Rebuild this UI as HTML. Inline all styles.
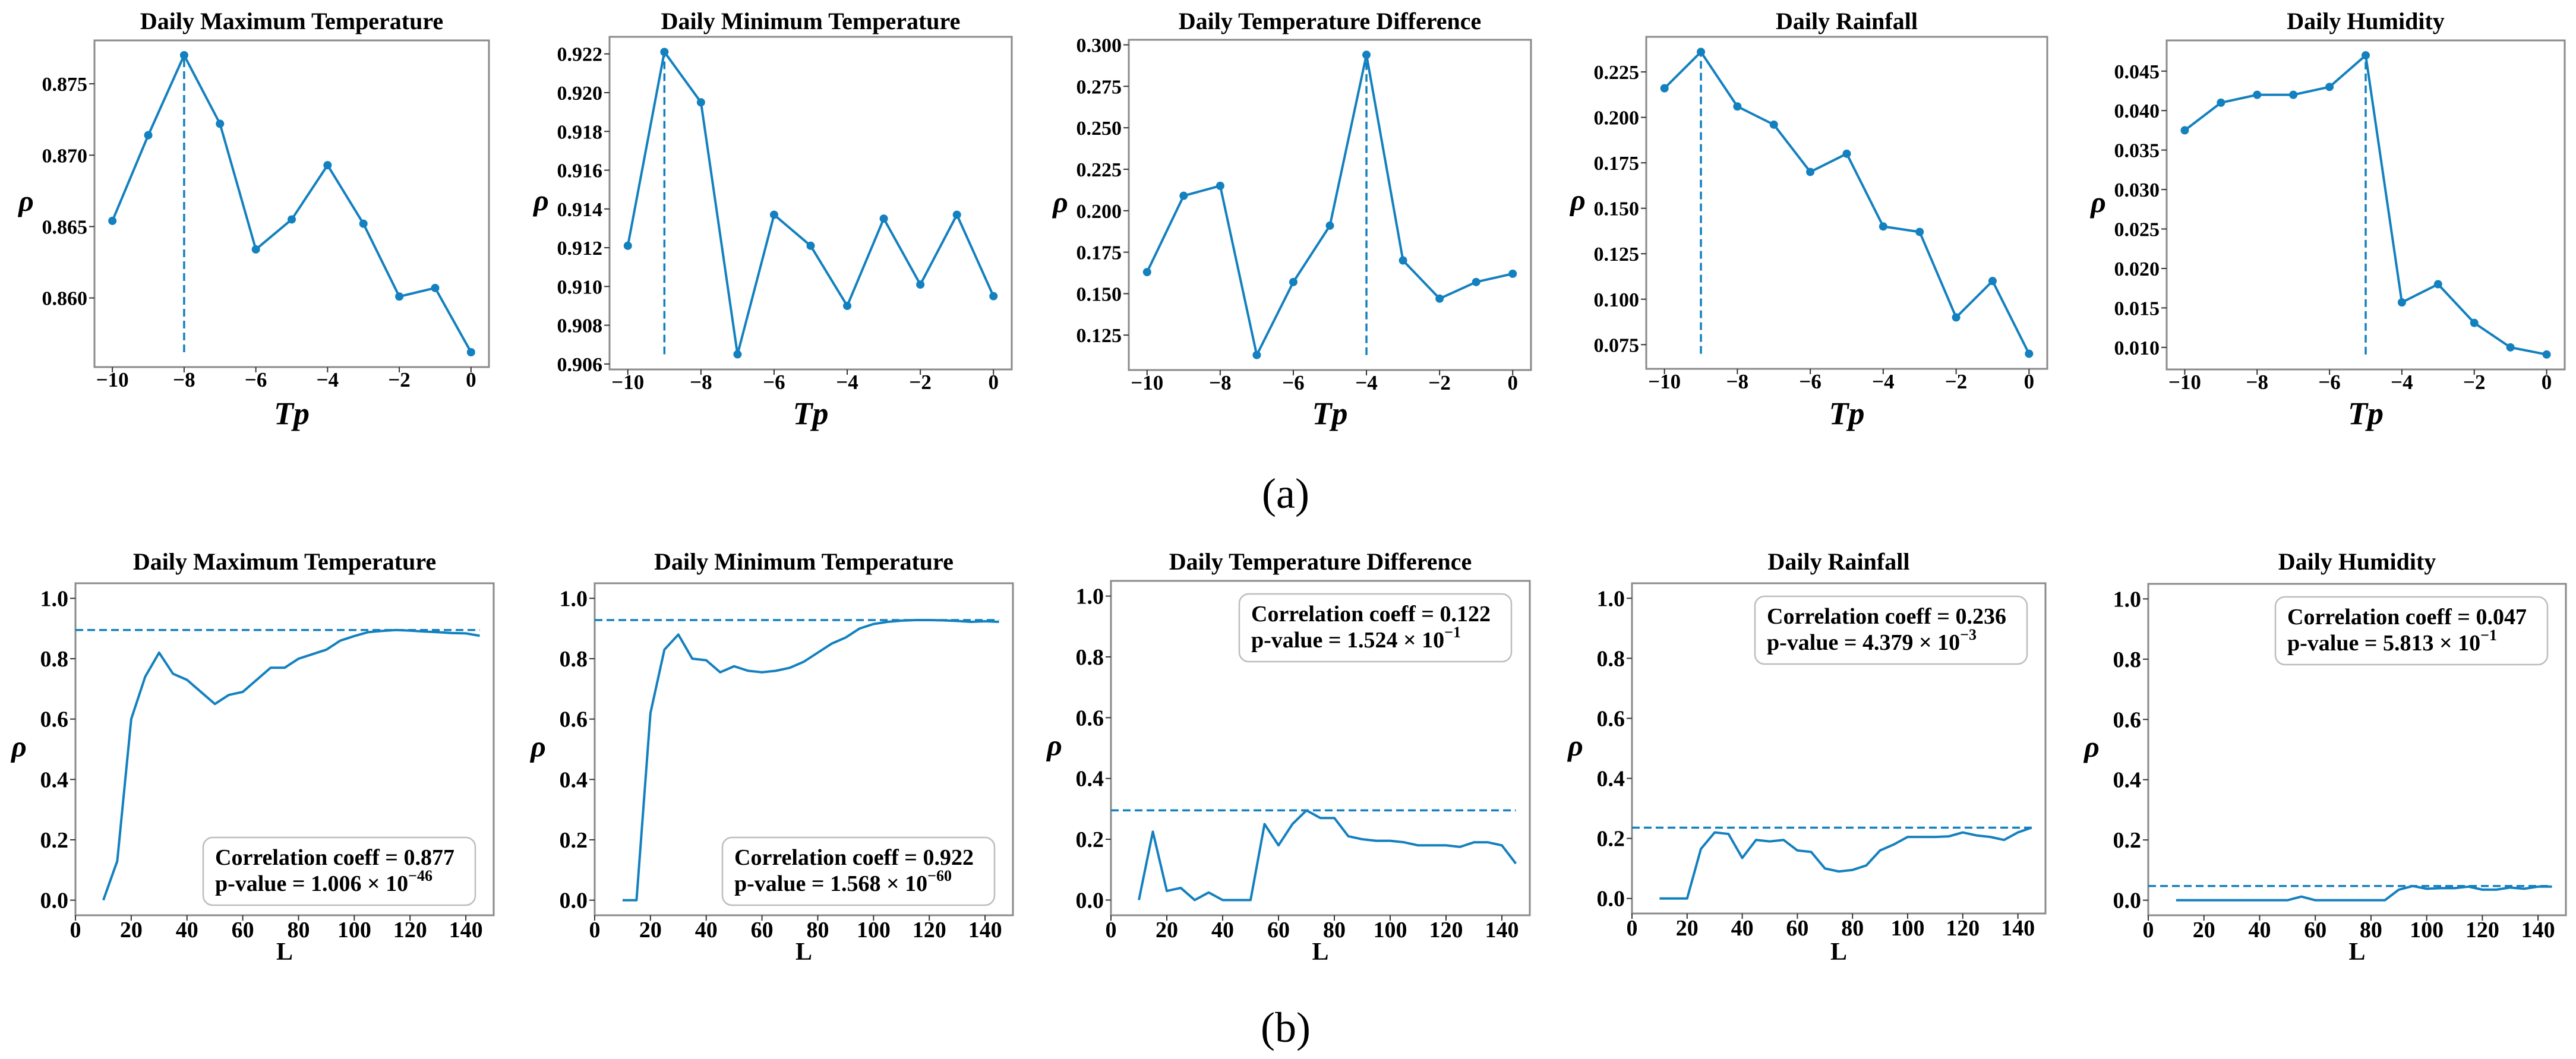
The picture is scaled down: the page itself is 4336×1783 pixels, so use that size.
<!DOCTYPE html>
<html><head><meta charset="utf-8">
<style>
html,body{margin:0;padding:0;background:#fff;}
svg{display:block;}
svg text{font-family:"Liberation Serif",serif;}
</style></head>
<body>
<svg id="fig" width="4336" height="1783" viewBox="0 0 4336 1783" xmlns="http://www.w3.org/2000/svg" font-family="Liberation Serif, serif">
<text x="2164" y="855" font-size="72" text-anchor="middle">(a)</text>
<text x="2164" y="1754" font-size="72" text-anchor="middle">(b)</text>
</svg>
<script>
// ---- data: top row (Tp lag) ----
const tpCategories = [-10,-9,-8,-7,-6,-5,-4,-3,-2,-1,0];
const titles = ["Daily Maximum Temperature","Daily Minimum Temperature","Daily Temperature Difference","Daily Rainfall","Daily Humidity"];
const tpMaxTemp = [0.8654,0.8714,0.8770,0.8722,0.8634,0.8655,0.8693,0.8652,0.8601,0.8607,0.8562];
const tpMinTemp = [0.9121,0.9221,0.9195,0.9065,0.9137,0.9121,0.9090,0.9135,0.9101,0.9137,0.9095];
const tpTempDiff = [0.163,0.209,0.215,0.113,0.157,0.191,0.294,0.170,0.147,0.157,0.162];
const tpRainfall = [0.216,0.236,0.206,0.196,0.170,0.180,0.140,0.137,0.090,0.110,0.070];
const tpHumidity = [0.0375,0.041,0.042,0.042,0.043,0.047,0.0157,0.018,0.0131,0.010,0.0091];
const tpXTicks = [-10,-8,-6,-4,-2,0];
const tpYTicks1 = ["0.860","0.865","0.870","0.875"];
const tpYTicks2 = ["0.906","0.908","0.910","0.912","0.914","0.916","0.918","0.920","0.922"];
const tpYTicks3 = ["0.125","0.150","0.175","0.200","0.225","0.250","0.275","0.300"];
const tpYTicks4 = ["0.075","0.100","0.125","0.150","0.175","0.200","0.225"];
const tpYTicks5 = ["0.010","0.015","0.020","0.025","0.030","0.035","0.040","0.045"];
// ---- data: bottom row (L window) ----
const lCategories = [10,15,20,25,30,35,40,45,50,55,60,65,70,75,80,85,90,95,100,105,110,115,120,125,130,135,140,145];
const lMaxTemp = [0,0.13,0.60,0.74,0.82,0.75,0.73,0.69,0.65,0.68,0.69,0.73,0.77,0.77,0.80,0.815,0.83,0.86,0.875,0.888,0.892,0.895,0.893,0.89,0.888,0.885,0.884,0.876];
const lMinTemp = [0,0,0.62,0.83,0.88,0.80,0.795,0.755,0.775,0.76,0.755,0.76,0.77,0.79,0.82,0.85,0.87,0.90,0.915,0.922,0.926,0.928,0.928,0.927,0.925,0.922,0.924,0.922];
const lTempDiff = [0,0.225,0.03,0.04,0,0.025,0,0,0,0.25,0.18,0.25,0.295,0.27,0.27,0.21,0.20,0.195,0.195,0.19,0.18,0.18,0.18,0.175,0.19,0.19,0.18,0.12];
const lRainfall = [0,0,0,0.165,0.22,0.215,0.135,0.195,0.19,0.195,0.16,0.155,0.10,0.09,0.095,0.11,0.16,0.18,0.205,0.205,0.205,0.207,0.22,0.21,0.205,0.195,0.22,0.236];
const lHumidity = [0,0,0,0,0,0,0,0,0,0.012,0,0,0,0,0,0,0.035,0.047,0.038,0.04,0.04,0.045,0.035,0.035,0.042,0.038,0.045,0.045];
const lXTicks = [0,20,40,60,80,100,120,140];
const lYTicks = ["0.0","0.2","0.4","0.6","0.8","1.0"];
const corrCoeff = ["0.877","0.922","0.122","0.236","0.047"];
const pMant = ["1.006","1.568","1.524","4.379","5.813"];
const pExp = ["−46","−60","−1","−3","−1"];

const svg = document.getElementById('fig');
const NS = 'http://www.w3.org/2000/svg';
const BLUE = '#1380bf';
function mk(tag, attrs, parent){const e=document.createElementNS(NS,tag);for(const k in attrs)e.setAttribute(k,attrs[k]);(parent||svg).appendChild(e);return e;}

const topBoxes=[{l:159,r:823,t:68,b:618},{l:1026,r:1703,t:62,b:622},{l:1900,r:2577,t:67,b:623},{l:2771,r:3446,t:62,b:621},{l:3647,r:4317,t:68,b:622}];
const botBoxes=[{l:127,r:831,t:982,b:1541},{l:1001,r:1705,t:982,b:1541},{l:1870,r:2575,t:978,b:1541},{l:2747,r:3443,t:982,b:1538},{l:3616,r:4319,t:983,b:1541}];
const topSeries=[tpMaxTemp,tpMinTemp,tpTempDiff,tpRainfall,tpHumidity];
const topTicks=[tpYTicks1,tpYTicks2,tpYTicks3,tpYTicks4,tpYTicks5];
const botSeries=[lMaxTemp,lMinTemp,lTempDiff,lRainfall,lHumidity];

function frame(g,B,title,ty,tsize){
  const t=mk('text',{x:(B.l+B.r)/2,y:ty,'font-size':tsize,'font-weight':'bold','text-anchor':'middle'},g);
  
  
  t.textContent=title;
  const r=mk('rect',{x:B.l,y:B.t,width:B.r-B.l,height:B.b-B.t,fill:'none',stroke:'#8a8a8a','stroke-width':3},g);
  
  
}

// ---- top row ----
topSeries.forEach((vals,i)=>{
  const B=topBoxes[i];
  const g=mk('g',{});
  
  
  frame(g,B,titles[i],49,40);
  const mn=Math.min(...vals), mx=Math.max(...vals), pad=(mx-mn)*0.05;
  const y0=mn-pad, y1=mx+pad;
  const xs=v=>B.l+(v+10.5)/11*(B.r-B.l);
  const ys=v=>B.b-(v-y0)/(y1-y0)*(B.b-B.t);
  tpXTicks.forEach(v=>{
    mk('line',{x1:xs(v),x2:xs(v),y1:B.b,y2:B.b+9,stroke:'#333','stroke-width':2},g);
    const t=mk('text',{x:xs(v),y:B.b+33,'font-size':35,'font-weight':'bold','text-anchor':'middle'},g);
    
    
    t.textContent=(v<0?'−'+(-v):''+v);
  });
  topTicks[i].forEach(s=>{
    const v=parseFloat(s);
    mk('line',{x1:B.l-9,x2:B.l,y1:ys(v),y2:ys(v),stroke:'#333','stroke-width':2},g);
    const t=mk('text',{x:B.l-12,y:ys(v)+12,'font-size':34,'font-weight':'bold','text-anchor':'end'},g);
    
    
    t.textContent=s;
  });
  const xl=mk('text',{x:(B.l+B.r)/2,y:714,'font-size':54,'font-weight':'bold','font-style':'italic','text-anchor':'middle'},g);
  
  
  xl.textContent='Tp';
  const yl=mk('text',{x:B.l-115,y:(B.t+B.b)/2+12,'font-size':50,'font-weight':'bold','font-style':'italic','text-anchor':'middle'},g);
  
  
  yl.textContent='ρ';
  const pk=vals.indexOf(mx);
  const dl=mk('line',{x1:xs(tpCategories[pk]),x2:xs(tpCategories[pk]),y1:ys(mn),y2:ys(mx),stroke:BLUE,'stroke-width':3.5,'stroke-dasharray':'13,7'},g);
  
  
  const pl=mk('polyline',{points:vals.map((v,k)=>xs(tpCategories[k])+','+ys(v)).join(' '),fill:'none',stroke:BLUE,'stroke-width':4,'stroke-linejoin':'round'},g);
  
  
  vals.forEach((v,k)=>{
    const c=mk('circle',{cx:xs(tpCategories[k]),cy:ys(v),r:7,fill:BLUE},g);
    
    
  });
});

// ---- bottom row ----
botSeries.forEach((vals,i)=>{
  const B=botBoxes[i];
  const g=mk('g',{});
  
  
  frame(g,B,titles[i],959,40);
  const xs=v=>B.l+v/150*(B.r-B.l);
  const ys=v=>B.b-(v+0.05)/1.1*(B.b-B.t);
  lXTicks.forEach(v=>{
    mk('line',{x1:xs(v),x2:xs(v),y1:B.b,y2:B.b+9,stroke:'#333','stroke-width':2},g);
    const t=mk('text',{x:xs(v),y:B.b+37,'font-size':38,'font-weight':'bold','text-anchor':'middle'},g);
    
    
    t.textContent=''+v;
  });
  lYTicks.forEach(s=>{
    const v=parseFloat(s);
    mk('line',{x1:B.l-9,x2:B.l,y1:ys(v),y2:ys(v),stroke:'#333','stroke-width':2},g);
    const t=mk('text',{x:B.l-12,y:ys(v)+13,'font-size':38,'font-weight':'bold','text-anchor':'end'},g);
    
    
    t.textContent=s;
  });
  const xl=mk('text',{x:(B.l+B.r)/2,y:1616,'font-size':42,'font-weight':'bold','text-anchor':'middle'},g);
  
  
  xl.textContent='L';
  const yl=mk('text',{x:B.l-95,y:(B.t+B.b)/2+12,'font-size':50,'font-weight':'bold','font-style':'italic','text-anchor':'middle'},g);
  
  
  yl.textContent='ρ';
  const mx=Math.max(...vals);
  const dl=mk('line',{x1:xs(0),x2:xs(145),y1:ys(mx),y2:ys(mx),stroke:BLUE,'stroke-width':3.5,'stroke-dasharray':'13,7'},g);
  
  
  const pl=mk('polyline',{points:vals.map((v,k)=>xs(lCategories[k])+','+ys(v)).join(' '),fill:'none',stroke:BLUE,'stroke-width':4,'stroke-linejoin':'round'},g);
  
  
  const bw=458,bh=114;
  const bx=B.r-31-bw;
  const by=(i<2)?B.b-17-bh:B.t+22;
  const ab=mk('rect',{x:bx,y:by,width:bw,height:bh,rx:16,ry:16,fill:'#fff',stroke:'#bdbdbd','stroke-width':2.5},g);
  
  
  const t1=mk('text',{x:bx+20,y:by+46,'font-size':38,'font-weight':'bold'},g);
  
  
  t1.textContent='Correlation coeff = '+corrCoeff[i];
  const t2=mk('text',{x:bx+20,y:by+90,'font-size':38,'font-weight':'bold'},g);
  
  
  t2.textContent='p-value = '+pMant[i]+' × 10';
  const sp=mk('tspan',{'font-size':26,dy:-17},t2);
  sp.textContent=pExp[i];
});
</script>
</body></html>
